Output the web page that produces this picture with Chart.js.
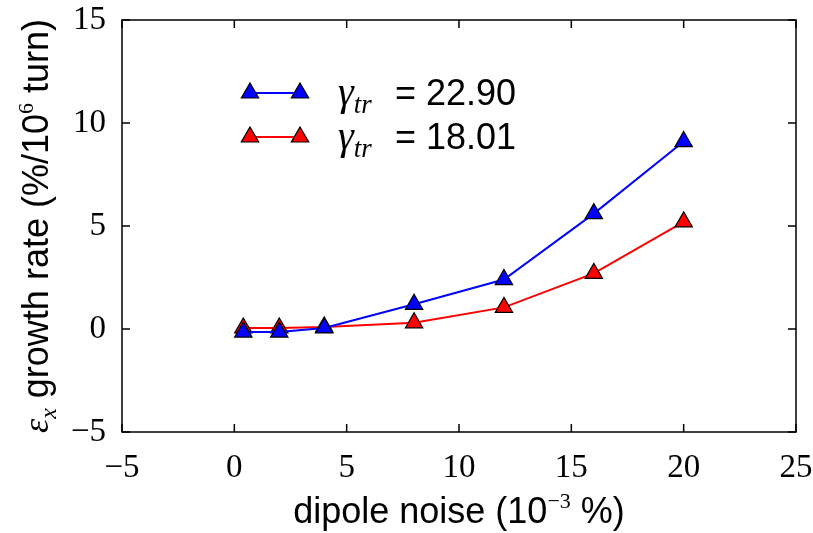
<!DOCTYPE html>
<html lang="en">
  <head>
    <meta charset="UTF-8" />
    <title>Emittance growth rate vs dipole noise</title>
    <style>
      html, body { margin: 0; padding: 0; background: #fff; }
      .container { position: relative; width: 813px; height: 533px; }
    </style>
    <script src="https://cdn.jsdelivr.net/npm/chart.js"></script>
  </head>
  <body>
    <div class="container"><canvas id="chart" width="813" height="533"></canvas></div>
    <script>
      // data
      const noise = [0.4, 2, 4, 8, 12, 16, 20]; // 10^-3 %
      const rateHigh = [-0.15, -0.15, 0.05, 1.2, 2.4, 5.6, 9.1]; // gamma_tr = 22.90
      const rateLow = [0.05, 0.05, 0.1, 0.3, 1.05, 2.7, 5.2]; // gamma_tr = 18.01
      const gammaValues = ["22.90", "18.01"];
      const xTicks = [-5, 0, 5, 10, 15, 20, 25];
      const yTicks = [-5, 0, 5, 10, 15];

      const SERIF = '"Liberation Serif", "DejaVu Serif", serif';
      const SANS = '"Liberation Sans", Arial, sans-serif';

      const drawRich = (ctx, parts, x, y) => {
        parts.forEach((p) => {
          ctx.font = p.font;
          ctx.fillText(p.text, x, y + (p.dy || 0));
          x += ctx.measureText(p.text).width;
        });
      };
      const richWidth = (ctx, parts) => {
        let w = 0;
        parts.forEach((p) => {
          ctx.font = p.font;
          w += ctx.measureText(p.text).width;
        });
        return w;
      };

      // box round the plot, ticks pointing inward on all four sides
      const frameTicks = {
        id: "frameTicks",
        afterDatasetsDraw(chart) {
          const { ctx, chartArea: a, scales } = chart;
          const len = 8;
          ctx.save();
          ctx.strokeStyle = "#000";
          ctx.lineWidth = 1.5;
          ctx.strokeRect(a.left, a.top, a.right - a.left, a.bottom - a.top);
          ctx.beginPath();
          scales.x.ticks.forEach((t) => {
            const px = scales.x.getPixelForValue(t.value);
            ctx.moveTo(px, a.bottom);
            ctx.lineTo(px, a.bottom - len);
            ctx.moveTo(px, a.top);
            ctx.lineTo(px, a.top + len);
          });
          scales.y.ticks.forEach((t) => {
            const py = scales.y.getPixelForValue(t.value);
            ctx.moveTo(a.left, py);
            ctx.lineTo(a.left + len, py);
            ctx.moveTo(a.right, py);
            ctx.lineTo(a.right - len, py);
          });
          ctx.stroke();
          ctx.restore();
        },
        afterDraw(chart) {
          const { ctx, chartArea: a } = chart;
          ctx.save();
          ctx.fillStyle = "#000";
          ctx.textBaseline = "alphabetic";

          // x axis title
          const xParts = [
            { text: "dipole noise (10", font: "36px " + SANS },
            { text: "\u22123", font: "22px " + SERIF, dy: -15 },
            { text: " %)", font: "36px " + SANS },
          ];
          const xw = richWidth(ctx, xParts);
          drawRich(ctx, xParts, (a.left + a.right) / 2 - xw / 2, 523);

          // y axis title, rotated
          const yParts = [
            { text: "\u03b5", font: "italic 36px " + SERIF },
            { text: "x", font: "italic 24px " + SERIF, dy: 8 },
            { text: " growth rate (%/10", font: "36px " + SANS },
            { text: "6", font: "22px " + SERIF, dy: -15 },
            { text: " turn)", font: "36px " + SANS },
          ];
          const yw = richWidth(ctx, yParts);
          ctx.translate(48, (a.top + a.bottom) / 2);
          ctx.rotate(-Math.PI / 2);
          drawRich(ctx, yParts, -yw / 2, 0);
          ctx.restore();

          // legend inside the plot
          ctx.save();
          chart.data.datasets.forEach((ds, i) => {
            const y = a.top + 73 + i * 44;
            const x0 = a.left + 128;
            const x1 = a.left + 178;
            ctx.strokeStyle = ds.borderColor;
            ctx.lineWidth = ds.borderWidth;
            ctx.beginPath();
            ctx.moveTo(x0, y);
            ctx.lineTo(x1, y);
            ctx.stroke();
            ctx.fillStyle = ds.pointBackgroundColor;
            ctx.strokeStyle = ds.pointBorderColor;
            ctx.lineWidth = ds.pointBorderWidth;
            [x0, x1].forEach((x) => {
              Chart.helpers.drawPoint(ctx, {
                pointStyle: "triangle",
                radius: ds.pointRadius,
                rotation: 0,
                borderWidth: ds.pointBorderWidth,
              }, x, y);
            });
            ctx.fillStyle = "#000";
            drawRich(ctx, [
              { text: "\u03b3", font: "italic 40px " + SERIF },
              { text: "tr", font: "italic 27px " + SERIF, dy: 8 },
            ], a.left + 216, y + 12);
            ctx.font = "36px " + SANS;
            ctx.fillText("= " + gammaValues[i], a.left + 273, y + 12);
          });
          ctx.restore();
        },
      };

      const minus = (v) => String(v).replace("-", "\u2212");

      new Chart(document.getElementById("chart"), {
        type: "line",
        data: {
          datasets: [
            {
              label: "gamma_tr = " + gammaValues[0],
              data: noise.map((x, i) => ({ x, y: rateHigh[i] })),
              borderColor: "#0000ff",
              borderWidth: 2,
              pointBackgroundColor: "#0000ff",
              pointBorderColor: "#000",
              pointBorderWidth: 1.2,
              pointStyle: "triangle",
              pointRadius: 10,
            },
            {
              label: "gamma_tr = " + gammaValues[1],
              data: noise.map((x, i) => ({ x, y: rateLow[i] })),
              borderColor: "#ff0000",
              borderWidth: 2,
              pointBackgroundColor: "#ff0000",
              pointBorderColor: "#000",
              pointBorderWidth: 1.2,
              pointStyle: "triangle",
              pointRadius: 10,
            },
          ],
        },
        options: {
          responsive: false,
          animation: false,
          layout: { padding: { top: 20, right: 17, left: 0, bottom: 0 } },
          plugins: { legend: { display: false }, tooltip: { enabled: false } },
          scales: {
            x: {
              type: "linear",
              min: xTicks[0],
              max: xTicks[xTicks.length - 1],
              afterBuildTicks: (s) => { s.ticks = xTicks.map((v) => ({ value: v })); },
              afterFit: (s) => {
                s.height = 101;
                s.paddingLeft = 0;
                s.paddingRight = 0;
              },
              grid: { display: false },
              border: { display: false },
              ticks: {
                padding: 9,
                color: "#000",
                maxRotation: 0,
                autoSkip: false,
                font: { family: SERIF, size: 33 },
                callback: minus,
              },
            },
            y: {
              min: yTicks[0],
              max: yTicks[yTicks.length - 1],
              afterBuildTicks: (s) => { s.ticks = yTicks.map((v) => ({ value: v })); },
              afterFit: (s) => {
                s.width = 122;
                s.paddingTop = 0;
                s.paddingBottom = 0;
              },
              grid: { display: false },
              border: { display: false },
              ticks: {
                padding: 8,
                color: "#000",
                autoSkip: false,
                font: { family: SERIF, size: 33 },
                callback: minus,
              },
            },
          },
        },
        plugins: [frameTicks],
      });
    </script>
  </body>
</html>
